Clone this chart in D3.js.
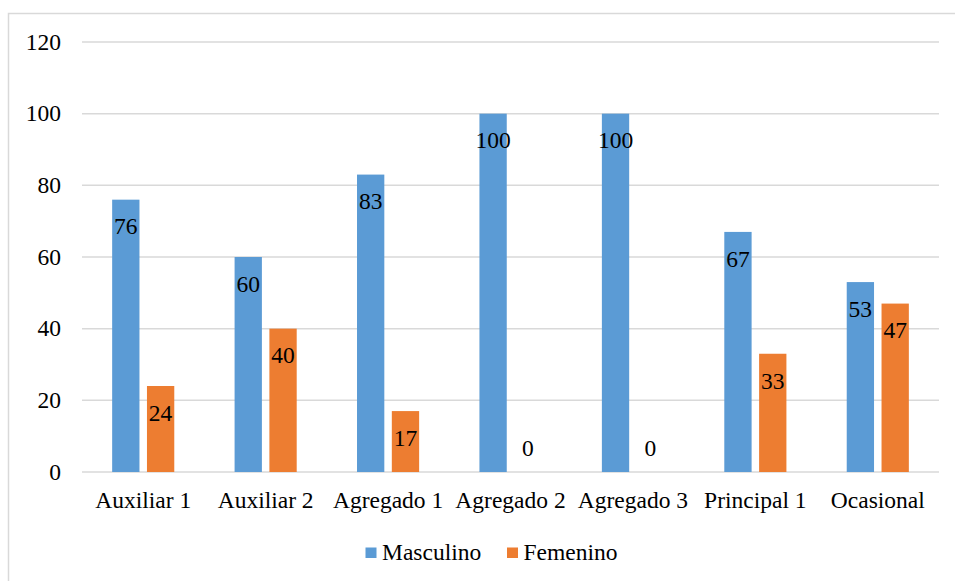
<!DOCTYPE html>
<html>
<head>
<meta charset="utf-8">
<script src="https://cdn.jsdelivr.net/npm/d3@7"></script>
</head>
<body style="margin:0;padding:0;background:#fff">
<svg id="chart" width="955" height="581" font-family="Liberation Serif" style="display:block"></svg>
<script>
// Categories and series (percentages)
const categories = ["Auxiliar 1", "Auxiliar 2", "Agregado 1", "Agregado 2", "Agregado 3", "Principal 1", "Ocasional"];
const seriesNames = ["Masculino", "Femenino"];
const masculino = [76, 60, 83, 100, 100, 67, 53];
const femenino = [24, 40, 17, 0, 0, 33, 47];
const yTicks = [0, 20, 40, 60, 80, 100, 120];

const serifFace = "Liberation Serif";
const labelSize = 23.5;
const colors = { Masculino: "#5B9BD5", Femenino: "#ED7D31" };
const seriesValues = { Masculino: masculino, Femenino: femenino };

const svg = d3.select("#chart");
const W = 955, H = 581;
const plot = { left: 82, right: 939, top: 42, bottom: 472 };

// Chart frame
svg.append("rect")
  .attr("x", 8.5).attr("y", 13.5)
  .attr("width", W).attr("height", H)
  .attr("fill", "#fff").attr("stroke", "#D9D9D9").attr("stroke-width", 1.5);

const x0 = d3.scaleBand().domain(categories).range([plot.left, plot.right]).paddingInner(0).paddingOuter(0);
const bw = x0.bandwidth();
const innerW = 62.1 / 122.4 * bw;
const x1 = d3.scaleBand().domain(seriesNames)
  .range([(bw - innerW) / 2, (bw + innerW) / 2])
  .paddingInner(0.2155).paddingOuter(0);
const y = d3.scaleLinear().domain([0, 120]).range([plot.bottom, plot.top]);

// Gridlines
const grid = svg.append("g");
grid.selectAll("line").data(yTicks).join("line")
  .attr("x1", plot.left).attr("x2", plot.right)
  .attr("y1", d => y(d)).attr("y2", d => y(d))
  .attr("stroke", "#D9D9D9").attr("stroke-width", 1.5);

// Value axis labels
svg.append("g").selectAll("text").data(yTicks).join("text")
  .attr("x", plot.left - 21).attr("y", d => y(d) + 7.8)
  .attr("text-anchor", "end")
  .attr("font-family", serifFace).attr("font-size", labelSize).attr("fill", "#000")
  .text(d => d);

// Bars
const groups = svg.append("g").selectAll("g")
  .data(categories).join("g")
  .attr("transform", d => `translate(${x0(d)},0)`);

groups.selectAll("rect")
  .data((c, i) => seriesNames.map(s => ({ s, v: seriesValues[s][i] })))
  .join("rect")
  .attr("x", d => x1(d.s))
  .attr("width", x1.bandwidth())
  .attr("y", d => y(d.v))
  .attr("height", d => y(0) - y(d.v))
  .attr("fill", d => colors[d.s]);

// Value labels, inside the end of each bar
groups.selectAll("text")
  .data((c, i) => seriesNames.map(s => ({ s, v: seriesValues[s][i] })))
  .join("text")
  .attr("x", d => x1(d.s) + x1.bandwidth() / 2)
  .attr("y", d => d.v === 0 ? y(0) - 16 : y(d.v) + 34.8)
  .attr("text-anchor", "middle")
  .attr("font-family", serifFace)
  .attr("font-size", labelSize)
  .attr("fill", "#000")
  .text(d => d.v);

// Category labels
svg.append("g").selectAll("text").data(categories).join("text")
  .attr("x", d => x0(d) + bw / 2).attr("y", plot.bottom + 36)
  .attr("text-anchor", "middle")
  .attr("font-family", serifFace).attr("font-size", labelSize).attr("fill", "#000")
  .text(d => d);

// Legend
const legendPos = [365.5, 507];
const legend = svg.append("g").selectAll("g")
  .data(seriesNames).join("g")
  .attr("transform", (d, i) => `translate(${legendPos[i]},0)`);
legend.append("rect").attr("x", 0).attr("y", 547.5).attr("width", 11).attr("height", 10.5)
  .attr("fill", d => colors[d]);
legend.append("text").attr("x", 16.5).attr("y", 560)
  .attr("font-family", serifFace).attr("font-size", labelSize).attr("fill", "#000")
  .text(d => d);
</script>
</body>
</html>
